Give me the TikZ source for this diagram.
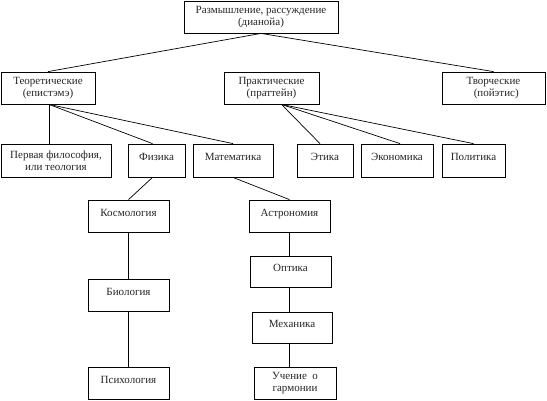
\documentclass[tikz,border=0pt]{standalone}
\usepackage{fontspec}
\setmainfont{Liberation Serif}
\usetikzlibrary{calc}
\begin{document}
\begin{tikzpicture}[x=1pt,y=-1pt,
  box/.style={draw=black, line width=0.8pt, inner sep=0pt, align=center,
    font=\fontsize{11}{12.5}\selectfont, text=black!85},
  link/.style={draw=black, line width=0.7pt}]
\useasboundingbox (0,0) rectangle (547,400);
\fill[white] (0,0) rectangle (547,400);
% level 1
\node[box, minimum width=154pt, minimum height=32pt] (top) at (261,17) {Размышление, рассуждение\\(дианойа)};
% level 2
\node[box, minimum width=94pt, minimum height=32pt] (teo) at (48,88) {Теоретические\\(епистэмэ)};
\node[box, minimum width=95pt, minimum height=32pt] (prak) at (271.5,88) {Практические\\(праттейн)};
\node[box, minimum width=103pt, minimum height=32pt] (tvor) at (493.5,88) {Творческие\\\ \ (пойэтис)};
% level 3
\node[box, minimum width=110pt, minimum height=33pt] (perv) at (56,160.5) {Первая философия,\\или теология};
\node[box, minimum width=57pt, minimum height=33pt] (fiz) at (156.5,160.5) {\raisebox{7pt}{Физика}};
\node[box, minimum width=80pt, minimum height=33pt] (mat) at (233,160.5) {\raisebox{7pt}{Математика}};
\node[box, minimum width=56pt, minimum height=33pt] (eti) at (325,160.5) {\raisebox{7pt}{Этика}};
\node[box, minimum width=72pt, minimum height=33pt] (eko) at (397,160.5) {\raisebox{7pt}{Экономика}};
\node[box, minimum width=63pt, minimum height=33pt] (pol) at (473.5,160.5) {\raisebox{7pt}{Политика}};
% lower levels
\node[box, minimum width=81pt, minimum height=32pt] (kos) at (128.5,216) {\raisebox{7pt}{Космология}};
\node[box, minimum width=81pt, minimum height=32pt] (bio) at (128.5,295) {\raisebox{7pt}{Биология}};
\node[box, minimum width=81pt, minimum height=32pt] (psi) at (128.5,383) {\raisebox{7pt}{Психология}};
\node[box, minimum width=81pt, minimum height=32pt] (ast) at (289.5,216) {\raisebox{7pt}{Астрономия}};
\node[box, minimum width=81pt, minimum height=31pt] (opt) at (290.5,271.5) {\raisebox{7pt}{Оптика}};
\node[box, minimum width=80pt, minimum height=31pt] (mech) at (292,327.5) {\raisebox{7pt}{Механика}};
\node[box, minimum width=82pt, minimum height=32pt] (uch) at (295,383) {Учение\ \ о\\гармонии};
% connectors
\draw[link] (top.south) -- (teo.north);
\draw[link] (top.south) -- (tvor.north);
\coordinate (teoS) at ($(teo.south)+(1,0)$);
\coordinate (prakS) at ($(prak.south)+(10,0)$);
\draw[link] (teoS) -- (teoS |- perv.north);
\draw[link] (teoS) -- ($(fiz.north)+(-4,0)$);
\draw[link] (teoS) -- (mat.north);
\draw[link] (prakS) -- ($(eti.north)+(-5,0)$);
\draw[link] (prakS) -- ($(eko.north)+(3,0)$);
\draw[link] (prakS) -- (pol.north);
\draw[link] ($(fiz.south)+(-4,0)$) -- (kos.north);
\draw[link] (mat.south) -- (ast.north);
\draw[link] (kos.south) -- (bio.north);
\draw[link] (bio.south) -- (psi.north);
\draw[link] (ast.south) -- (ast.south |- opt.north);
\draw[link] (ast.south |- opt.south) -- (ast.south |- mech.north);
\draw[link] (ast.south |- mech.south) -- (ast.south |- uch.north);
\end{tikzpicture}
\end{document}
